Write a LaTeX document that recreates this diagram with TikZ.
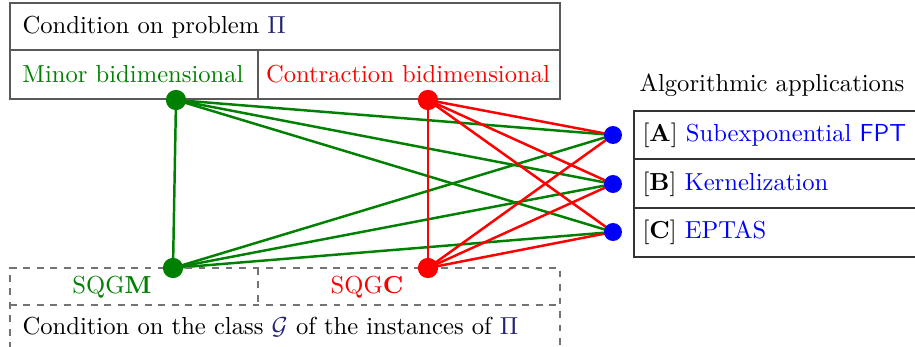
\documentclass[tikz,border=0pt,11pt]{standalone}
\usepackage{amsmath}
\usetikzlibrary{positioning,backgrounds}
\definecolor{dgreen}{RGB}{0,128,0}
\definecolor{pinavy}{RGB}{35,35,115}

\begin{document}
\begin{tikzpicture}[x=0.445pt, y=-0.445pt,
    frame/.style = {draw=black!65, line width=0.5pt},
    dframe/.style = {draw=black!55, dashed, line width=0.5pt},
    dot/.style = {circle, fill, inner sep=0pt, minimum size=9pt},
    appdot/.style = {dot, blue, minimum size=8pt},
    link/.style = {line width=1.1pt}]
    \useasboundingbox (0,0) rectangle (915,347);

    % problem conditions
    \draw [frame] (10,3) rectangle (560,99);
    \draw [frame] (10,50) -- (560,50);
    \draw [frame] (258,50) -- (258,99);
    \node (cprob) at (14,27) [anchor=west] {Condition on problem {\color{pinavy}$\Pi$}};
    \node (minor) at (133,74) [text=dgreen] {Minor bidimensional};
    \node (contr) at (408,74) [text=red] {Contraction bidimensional};

    % graph class conditions
    \draw [dframe] (10,349) -- (10,268) -- (560,268) -- (560,349);
    \draw [dframe] (10,305) -- (560,305);
    \draw [dframe] (258,268) -- (258,305);
    \node (sqgm) at (112,287) [text=dgreen] {SQG$\mathbf{M}$};
    \node (sqgc) at (367,287) [text=red] {SQG$\mathbf{C}$};
    \node (cclass) at (14,327) [anchor=west] {Condition on the class {\color{pinavy}$\mathcal{G}$} of the instances of {\color{pinavy}$\Pi$}};

    % applications
    \node (algo) at (772,85) {Algorithmic applications};
    \draw [draw=black!80, line width=0.6pt] (915,111) -- (634,111) -- (634,257) -- (915,257);
    \draw [draw=black!80, line width=0.6pt] (634,159) -- (915,159);
    \draw [draw=black!80, line width=0.6pt] (634,208) -- (915,208);
    \node (appA) at (634,135) [anchor=west] {[\textbf{A}] {\color{blue}Subexponential \textsf{FPT}}};
    \node (appB) at (634,184) [anchor=west] {[\textbf{B}] {\color{blue}Kernelization}};
    \node (appC) at (634,232) [anchor=west] {[\textbf{C}] {\color{blue}EPTAS}};

    % dots
    \node (mtop) at (176,100) [dot, dgreen] {};
    \node (ctop) at (428,100) [dot, red] {};
    \node (mbot) at (173,268) [dot, dgreen] {};
    \node (cbot) at (428,268) [dot, red] {};
    \node (a) at (613,135) [appdot] {};
    \node (b) at (613,184) [appdot] {};
    \node (c) at (613,232) [appdot] {};

    \begin{pgfonlayer}{background}
    \foreach \s in {mtop, mbot}
        \foreach \t in {a, b, c}
            \draw [link, dgreen] (\s.center) -- (\t.center);
    \foreach \s in {ctop, cbot}
        \foreach \t in {a, b, c}
            \draw [link, red] (\s.center) -- (\t.center);
    \draw [link, dgreen] (mtop.center) -- (mbot.center);
    \draw [link, red] (ctop.center) -- (cbot.center);
    \end{pgfonlayer}
\end{tikzpicture}
\end{document}
